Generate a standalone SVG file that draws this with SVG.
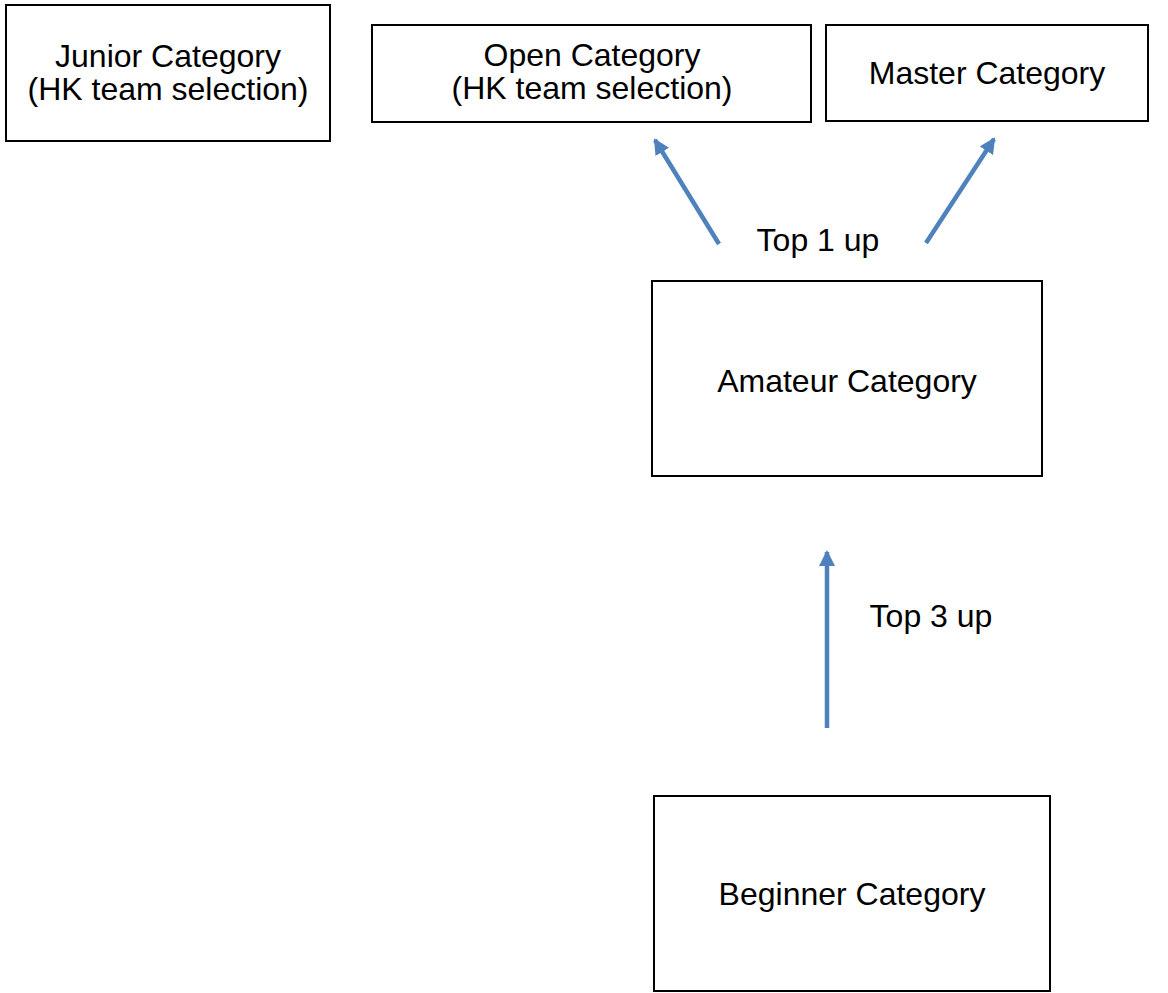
<svg xmlns="http://www.w3.org/2000/svg" width="1168" height="993" viewBox="0 0 1168 993">
<style>
.box{fill:#fff;stroke:#000;stroke-width:2}
.t{font-family:"Liberation Sans",Arial,sans-serif;font-size:32px;fill:#000;text-anchor:middle}
.c{stroke:#4F81BD;stroke-width:4.5;fill:none;marker-end:url(#ah)}
</style>
<defs>
<marker id="ah" markerUnits="userSpaceOnUse" markerWidth="16" markerHeight="16" viewBox="0 0 16 16" refX="14" refY="8" orient="auto">
<path d="M0,0 L16,8 L0,16 Z" fill="#4F81BD"/>
</marker>
</defs>
<rect width="1168" height="993" fill="#fff"/>
<g id="junior"><rect class="box" x="6" y="5" width="324" height="136"/><text class="t" x="168" y="67">Junior Category</text><text class="t" x="168" y="100">(HK team selection)</text></g>
<g id="open"><rect class="box" x="372" y="25" width="439" height="97"/><text class="t" x="592" y="66">Open Category</text><text class="t" x="592" y="99">(HK team selection)</text></g>
<g id="master"><rect class="box" x="826" y="25" width="322" height="96"/><text class="t" x="987" y="84">Master Category</text></g>
<g id="amateur"><rect class="box" x="652" y="281" width="390" height="195"/><text class="t" x="847" y="392">Amateur Category</text></g>
<g id="beginner"><rect class="box" x="654" y="796" width="396" height="195"/><text class="t" x="852" y="905">Beginner Category</text></g>
<g id="connectors">
<line class="c" x1="719" y1="244" x2="655" y2="140"/>
<line class="c" x1="926" y1="243" x2="994" y2="139"/>
<line class="c" x1="827" y1="728" x2="827" y2="552"/>
<text class="t" x="818" y="251">Top 1 up</text>
<text class="t" x="931" y="627">Top 3 up</text>
</g>
</svg>
